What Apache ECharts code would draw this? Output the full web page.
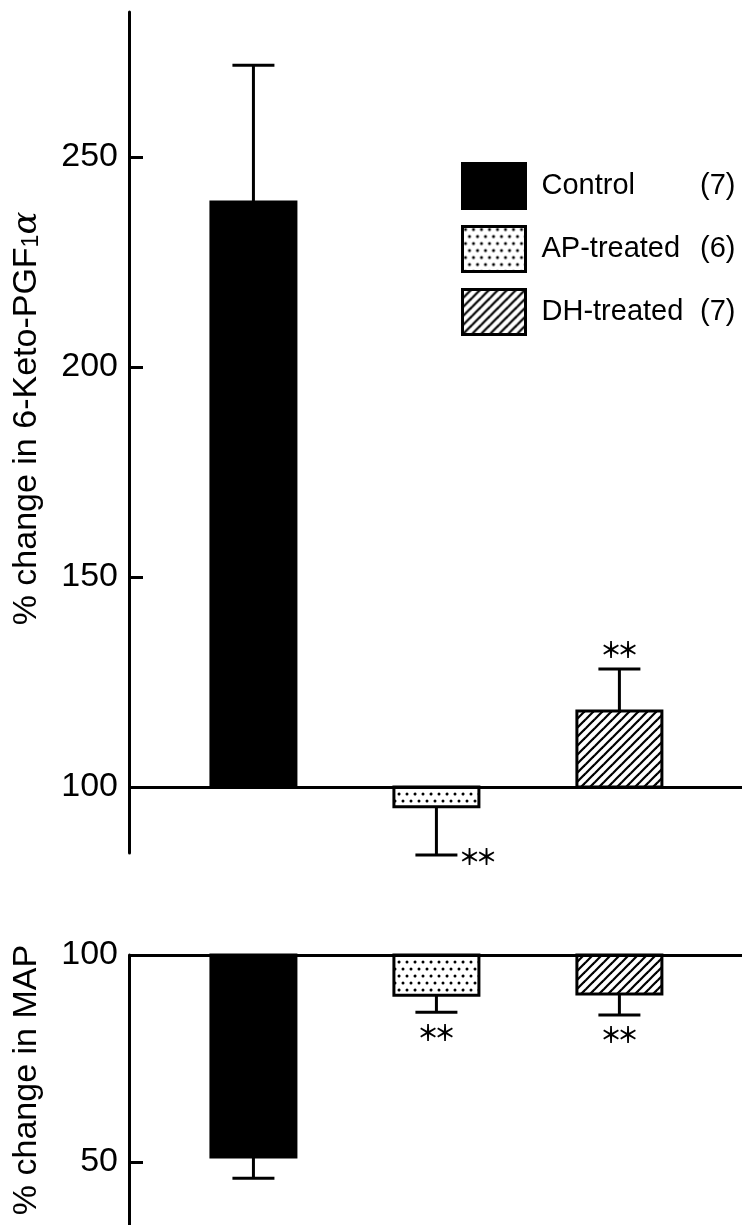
<!DOCTYPE html>
<html>
<head>
<meta charset="utf-8">
<script src="https://cdn.jsdelivr.net/npm/echarts@6/dist/echarts.min.js"></script>
<style>
  html, body { margin: 0; padding: 0; background: #fff; }
  #chart { width: 742px; height: 1225px; }
</style>
</head>
<body>
<div id="chart"></div>
<script>
// groups and their n
const groups = ['Control', 'AP-treated', 'DH-treated'];
const counts = ['(7)', '(6)', '(7)'];
const xPos = [1, 2, 3];

// % change in 6-Keto-PGF1a : mean and end of SE bar
const ketoMean = [239.3, 95.3, 118.1];
const ketoErr = [271.8, 83.8, 128.1];
const ketoStars = ['', '**', '**'];
const ketoTicks = [100, 150, 200, 250];

// % change in MAP
const mapMean = [51.2, 90.3, 90.6];
const mapErr = [46.1, 86.2, 85.5];
const mapStars = ['', '**', '**'];
const mapTicks = [50, 100];

const baseline = 100;

function dotPattern() {
    const c = document.createElement('canvas');
    c.width = 16; c.height = 14;
    const ctx = c.getContext('2d');
    ctx.fillStyle = '#fff';
    ctx.fillRect(0, 0, 16, 14);
    ctx.fillStyle = '#000';
    [[3, 3], [11, 3], [7, 10], [15, 10], [-1, 10]].forEach(function (p) {
        ctx.beginPath();
        ctx.arc(p[0], p[1], 1.5, 0, Math.PI * 2);
        ctx.fill();
    });
    return c;
}

function hatchPattern() {
    const c = document.createElement('canvas');
    c.width = 9; c.height = 9;
    const ctx = c.getContext('2d');
    ctx.fillStyle = '#fff';
    ctx.fillRect(0, 0, 9, 9);
    ctx.strokeStyle = '#000';
    ctx.lineWidth = 2.2;
    [-9, 0, 9].forEach(function (k) {
        ctx.beginPath();
        ctx.moveTo(k - 1, 10);
        ctx.lineTo(k + 10, -1);
        ctx.stroke();
    });
    return c;
}

const fills = [
    '#000',
    { image: dotPattern(), repeat: 'repeat' },
    { image: hatchPattern(), repeat: 'repeat' }
];

const starFont = 'bold 22px "Noto Sans CJK JP"';
const starStep = 17;

// draws one bar from the baseline, its SE bar and the significance marks
function barItem(mean, err, stars, lower) {
    return function (i, api) {
        const x = api.value(0);
        const pBase = api.coord([x, baseline]);
        const pTop = api.coord([x, mean[i]]);
        const pErr = api.coord([x, err[i]]);
        const halfW = 42.5;
        const capW = 21;
        const style = api.style();
        const children = [
            {
                type: 'rect',
                shape: {
                    x: pBase[0] - halfW,
                    y: Math.min(pBase[1], pTop[1]),
                    width: halfW * 2,
                    height: Math.abs(pBase[1] - pTop[1])
                },
                style: { fill: style.fill, stroke: '#000', lineWidth: 3 }
            },
            {
                type: 'line',
                shape: { x1: pTop[0], y1: pTop[1], x2: pErr[0], y2: pErr[1] },
                style: { stroke: '#000', lineWidth: 3 }
            },
            {
                type: 'line',
                shape: { x1: pErr[0] - capW, y1: pErr[1], x2: pErr[0] + capW, y2: pErr[1] },
                style: { stroke: '#000', lineWidth: 3 }
            }
        ];
        if (stars[i]) {
            const n = stars[i].length;
            let cx, cy;
            if (lower) {
                cx = pErr[0] - (n - 1) * starStep / 2;
                cy = pErr[1] + 20;
            } else if (mean[i] < baseline) {
                cx = pErr[0] + capW + 12;
                cy = pErr[1] + 2;
            } else {
                cx = pErr[0] - (n - 1) * starStep / 2;
                cy = pErr[1] - 19;
            }
            for (let k = 0; k < n; k++) {
                children.push({
                    type: 'text',
                    x: cx + k * starStep,
                    y: cy,
                    style: {
                        text: '＊',
                        font: starFont,
                        fill: '#000',
                        align: 'center',
                        verticalAlign: 'middle'
                    }
                });
            }
        }
        return { type: 'group', children: children };
    };
}

const baseLine = {
    silent: true,
    symbol: ['none', 'none'],
    label: { show: false },
    lineStyle: { color: '#000', width: 3, type: 'solid' },
    data: [{ yAxis: baseline }]
};

const drawKeto = barItem(ketoMean, ketoErr, ketoStars, false);
const drawMap = barItem(mapMean, mapErr, mapStars, true);

const series = [];
groups.forEach(function (g, i) {
    const itemStyle = { color: fills[i], borderColor: '#000', borderWidth: 3 };
    series.push({
        name: g,
        type: 'custom',
        xAxisIndex: 0,
        yAxisIndex: 0,
        itemStyle: itemStyle,
        data: [[xPos[i], ketoMean[i]]],
        renderItem: function (params, api) { return drawKeto(i, api); },
        markLine: i === 0 ? baseLine : undefined,
        z: 3
    });
    series.push({
        name: g,
        type: 'custom',
        xAxisIndex: 1,
        yAxisIndex: 1,
        itemStyle: itemStyle,
        data: [[xPos[i], mapMean[i]]],
        renderItem: function (params, api) { return drawMap(i, api); },
        markLine: i === 0 ? baseLine : undefined,
        z: 3
    });
});

const labelFont = '"Liberation Sans Narrow", "Liberation Sans", sans-serif';
const nameFont = '"Liberation Sans", Arial, sans-serif';

function yAxis(gridIndex, min, max, ticks, name, shift) {
    return {
        gridIndex: gridIndex,
        type: 'value',
        min: min,
        max: max,
        axisLine: { show: true, onZero: false, lineStyle: { color: '#000', width: 3 } },
        axisTick: {
            show: true, inside: true, length: 14, customValues: ticks,
            lineStyle: { color: '#000', width: 3 }
        },
        axisLabel: {
            customValues: ticks, margin: 11, color: '#000',
            fontSize: 34, fontFamily: labelFont
        },
        splitLine: { show: false },
        name: name,
        nameLocation: 'middle',
        nameRotate: 90,
        nameGap: 85,
        nameTextStyle: {
            color: '#000', fontSize: 34, fontFamily: nameFont,
            padding: [0, 0, 0, shift],
            rich: {
                s: { fontSize: 23, fontFamily: nameFont, color: '#000', padding: [9, 0, 0, 0] },
                a: { fontSize: 34, fontFamily: '"DejaVu Serif", serif', fontStyle: 'italic', color: '#000' }
            }
        }
    };
}

const chart = echarts.init(document.getElementById('chart'), null, { renderer: 'canvas' });
chart.setOption({
    animation: false,
    backgroundColor: '#fff',
    grid: [
        { left: 129, right: 0, top: 12, height: 841 },
        { left: 129, right: 0, top: 955, height: 270 }
    ],
    xAxis: [
        { gridIndex: 0, type: 'value', min: 0.32, max: 3.67, show: false },
        { gridIndex: 1, type: 'value', min: 0.32, max: 3.67, show: false }
    ],
    yAxis: [
        yAxis(0, 84.3, 284.5, ketoTicks, '% change in 6-Keto-PGF{s|1}{a|α}', 28),
        yAxis(1, 34.8, 100, mapTicks, '% change in MAP', 20)
    ],
    legend: {
        orient: 'vertical',
        left: 461,
        top: 162,
        padding: 0,
        itemWidth: 63,
        itemHeight: 45,
        itemGap: 15,
        icon: 'rect',
        selectedMode: false,
        data: groups.map(function (g, i) {
            return {
                name: g,
                itemStyle: { color: fills[i], borderColor: '#000', borderWidth: 3 }
            };
        }),
        formatter: function (name) {
            return '{a|' + name + '}{b|' + counts[groups.indexOf(name)] + '}';
        },
        textStyle: {
            color: '#000',
            fontSize: 29,
            fontFamily: nameFont,
            padding: [0, 0, 0, 11],
            rich: {
                a: { width: 150, fontSize: 29, fontFamily: nameFont, color: '#000' },
                b: { width: 44, align: 'right', fontSize: 29, fontFamily: nameFont, color: '#000' }
            }
        }
    },
    series: series
});
</script>
</body>
</html>
